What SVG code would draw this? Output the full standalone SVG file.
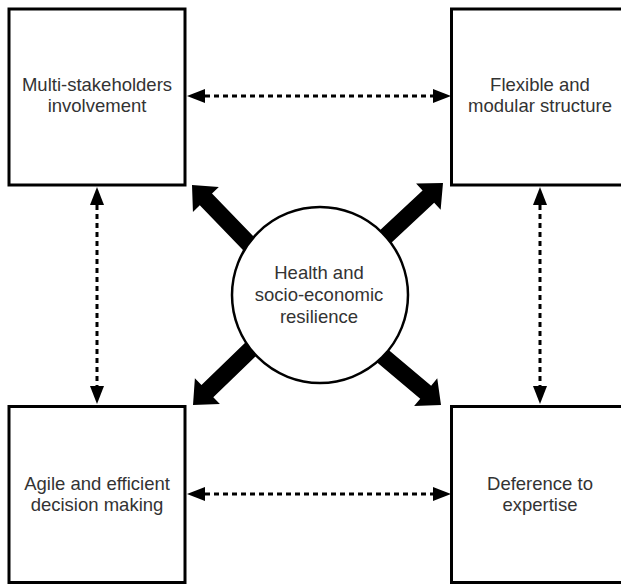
<svg xmlns="http://www.w3.org/2000/svg" width="621" height="584" viewBox="0 0 621 584">
<style>
.box{fill:#fff;stroke:#000;stroke-width:3}
.lbl{font-family:"Liberation Sans",Arial,sans-serif;font-size:18.5px;fill:#333;text-anchor:middle}
.dash{stroke:#000;stroke-width:3;stroke-dasharray:5 4;fill:none;marker-start:url(#ah);marker-end:url(#ah)}
.blk{fill:#000}
</style>
<defs>
<marker id="ah" markerUnits="userSpaceOnUse" markerWidth="20" markerHeight="16" refX="0" refY="7" orient="auto-start-reverse" viewBox="0 0 20 14">
<path d="M0,0 L18,7 L0,14 Z" fill="#000"/>
</marker>
<path id="blkArrow" d="M0,0 L-20,-18 L-20,-8.5 L-115,-8.5 L-115,8.5 L-20,8.5 L-20,18 Z"/>
</defs>
<g id="connectors">
<line class="dash" x1="205" y1="96" x2="433" y2="96"/>
<line class="dash" x1="205" y1="494" x2="433" y2="494"/>
<line class="dash" x1="97" y1="205" x2="97" y2="386"/>
<line class="dash" x1="540" y1="205" x2="540" y2="386"/>
<use href="#blkArrow" class="blk" transform="translate(192,185) rotate(-134)"/>
<use href="#blkArrow" class="blk" transform="translate(443,183) rotate(-43)"/>
<use href="#blkArrow" class="blk" transform="translate(193,405) rotate(136)"/>
<use href="#blkArrow" class="blk" transform="translate(441,405) rotate(40)"/>
</g>
<g id="n-multi">
<rect class="box" x="9" y="9" width="176" height="176"/>
<text class="lbl" x="97" y="91">Multi-stakeholders</text>
<text class="lbl" x="97" y="112">involvement</text>
</g>
<g id="n-flexible">
<rect class="box" x="451.5" y="9" width="176" height="176"/>
<text class="lbl" x="540" y="91">Flexible and</text>
<text class="lbl" x="540" y="112">modular structure</text>
</g>
<g id="n-agile">
<rect class="box" x="9" y="406.5" width="176" height="176"/>
<text class="lbl" x="97" y="490">Agile and efficient</text>
<text class="lbl" x="97" y="511">decision making</text>
</g>
<g id="n-deference">
<rect class="box" x="451.5" y="406.5" width="176" height="176"/>
<text class="lbl" x="540" y="490">Deference to</text>
<text class="lbl" x="540" y="511">expertise</text>
</g>
<g id="n-health">
<circle cx="320" cy="295" r="88" fill="#fff" stroke="#000" stroke-width="2.5"/>
<text class="lbl" x="319" y="279">Health and</text>
<text class="lbl" x="319" y="301">socio-economic</text>
<text class="lbl" x="319" y="323">resilience</text>
</g>
</svg>
